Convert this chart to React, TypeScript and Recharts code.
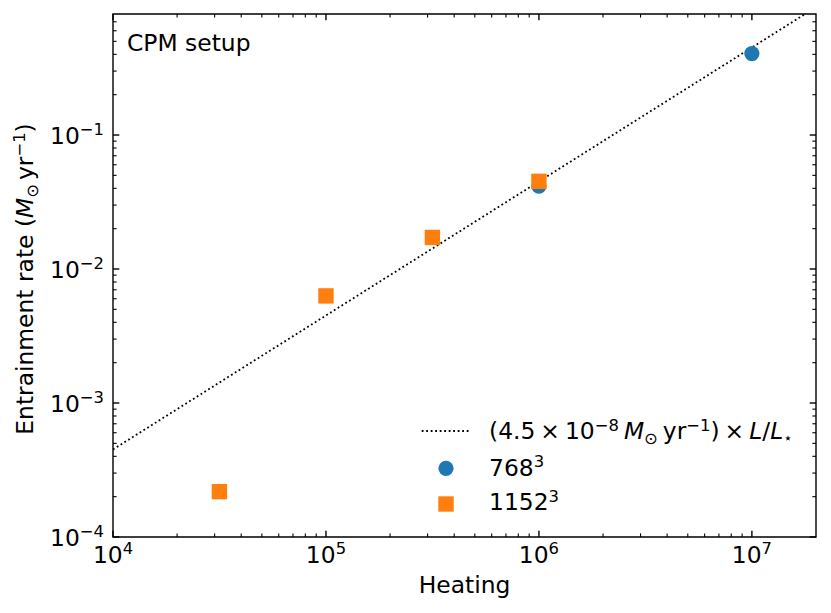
// Entrainment rate vs heating — log-log scatter with a linear scaling line.
import React from 'react';
import {
  ComposedChart,
  Line,
  Scatter,
  XAxis,
  YAxis,
  ReferenceArea,
  Legend,
} from 'recharts';

const FONT = '"DejaVu Sans", sans-serif';
const BLUE = '#1f77b4';
const ORANGE = '#ff7f0e';

// plot box (px) — matches margins + axis sizes below
const W = 831;
const H = 613;
const PLOT_L = 113;
const PLOT_R = 816;
const PLOT_T = 14;
const PLOT_B = 537;

const X_DOMAIN = [1e4, 2e7];
const Y_DOMAIN = [1e-4, 0.8];

// decades + minor steps for the log axes
const X_MAJOR = [1e4, 1e5, 1e6, 1e7];
const Y_MAJOR = [1e-4, 1e-3, 1e-2, 1e-1];
const MINOR_STEPS = [2, 3, 4, 5, 6, 7, 8, 9];

// dotted scaling line: (4.5e-8 Msun/yr) x L/L*
const FIT_X = [1e4, 2e7];
const FIT_Y = [4.5e-4, 0.9];

// 768^3 runs
const LOW_X = [1e6, 1e7];
const LOW_Y = [0.0415, 0.405];

// 1152^3 runs
const HIGH_X = [3.16e4, 1e5, 3.16e5, 1e6];
const HIGH_Y = [2.18e-4, 6.3e-3, 0.0172, 0.0451];

const zip = (xs: number[], ys: number[]) => xs.map((x, i) => ({ x, y: ys[i] }));
const fitData = zip(FIT_X, FIT_Y);
const lowData = zip(LOW_X, LOW_Y);
const highData = zip(HIGH_X, HIGH_Y);

const withMinor = (majors: number[], max: number) =>
  majors
    .flatMap((d) => [d, ...MINOR_STEPS.map((s) => s * d)])
    .filter((v) => v < max * 0.99);

const xTicks = withMinor(X_MAJOR, X_DOMAIN[1]);
const yTicks = withMinor(Y_MAJOR, Y_DOMAIN[1]);

const isMajor = (v: number) => {
  const e = Math.log10(v);
  return Math.abs(e - Math.round(e)) < 1e-6;
};
const expLabel = (v: number) => {
  const e = Math.round(Math.log10(v));
  return e < 0 ? `\u2212${-e}` : `${e}`;
};

const FS = 23.4;
const SUP = 16.4;

function XTick(props: any) {
  const { x, payload } = props;
  const v = payload.value;
  const major = isMajor(v);
  const len = major ? 6.3 : 3.6;
  const sw = major ? 1.4 : 1.1;
  return (
    <g>
      <line x1={x} x2={x} y1={PLOT_B} y2={PLOT_B - len} stroke="#000" strokeWidth={sw} />
      <line x1={x} x2={x} y1={PLOT_T} y2={PLOT_T + len} stroke="#000" strokeWidth={sw} />
      {major && (
        <text x={x} y={562.5} textAnchor="middle" fontFamily={FONT} fontSize={FS} fill="#000">
          <tspan>10</tspan>
          <tspan dy={-8.5} fontSize={SUP}>{expLabel(v)}</tspan>
        </text>
      )}
    </g>
  );
}

function YTick(props: any) {
  const { y, payload } = props;
  const v = payload.value;
  const major = isMajor(v);
  const len = major ? 6.3 : 3.6;
  const sw = major ? 1.4 : 1.1;
  return (
    <g>
      <line x1={PLOT_L} x2={PLOT_L + len} y1={y} y2={y} stroke="#000" strokeWidth={sw} />
      <line x1={PLOT_R} x2={PLOT_R - len} y1={y} y2={y} stroke="#000" strokeWidth={sw} />
      {major && (
        <text x={104} y={y + 8.5} textAnchor="end" fontFamily={FONT} fontSize={FS} fill="#000">
          <tspan>10</tspan>
          <tspan dy={-8.5} fontSize={SUP}>{expLabel(v)}</tspan>
        </text>
      )}
    </g>
  );
}

const circleShape = (p: any) => <circle cx={p.cx} cy={p.cy} r={7.6} fill={BLUE} />;
const squareShape = (p: any) => (
  <rect x={p.cx - 7.7} y={p.cy - 7.7} width={15.4} height={15.4} fill={ORANGE} />
);

function XLabel() {
  return (
    <text x={(PLOT_L + PLOT_R) / 2} y={593} textAnchor="middle" fontFamily={FONT} fontSize={FS} fill="#000">
      Heating
    </text>
  );
}

function YLabel() {
  return (
    <text
      x={33}
      y={279}
      transform="rotate(-90 33 279)"
      textAnchor="middle"
      fontFamily={FONT}
      fontSize={FS}
      fill="#000"
    >
      <tspan>Entrainment rate (</tspan>
      <tspan fontStyle="italic">M</tspan>
      <tspan dy={4.5} fontSize={SUP}>{'\u2299'}</tspan>
      <tspan dx={4} dy={-4.5}>yr</tspan>
      <tspan dy={-8.5} fontSize={SUP}>{'\u22121'}</tspan>
      <tspan dy={8.5}>)</tspan>
    </text>
  );
}

function CpmLabel() {
  return (
    <text x={127} y={51} fontFamily={FONT} fontSize={FS} fill="#000">
      CPM setup
    </text>
  );
}

function LegendBox() {
  return (
    <svg width={420} height={120} style={{ display: 'block', overflow: 'visible' }}>
      <line x1={11.7} x2={59.3} y1={26} y2={26} stroke="#000" strokeWidth={1.8} strokeDasharray="1.8 2.7" />
      <text x={79} y={34} fontFamily={FONT} fontSize={FS} fill="#000">
        <tspan>(4.5</tspan>
        <tspan dx={5}>×</tspan>
        <tspan dx={5}>10</tspan>
        <tspan dy={-8.5} fontSize={SUP}>{'\u22128'}</tspan>
        <tspan dx={5} dy={8.5} fontStyle="italic">M</tspan>
        <tspan dy={4.5} fontSize={SUP}>{'\u2299'}</tspan>
        <tspan dx={5} dy={-4.5}>yr</tspan>
        <tspan dy={-8.5} fontSize={SUP}>{'\u22121'}</tspan>
        <tspan dy={8.5}>)</tspan>
        <tspan dx={5}>×</tspan>
        <tspan dx={5} fontStyle="italic">L</tspan>
        <tspan>/</tspan>
        <tspan fontStyle="italic">L</tspan>
        <tspan dy={4} fontSize={15}>{'\u22c6'}</tspan>
      </text>
      <circle cx={36} cy={63.3} r={7.6} fill={BLUE} />
      <text x={79} y={70.7} fontFamily={FONT} fontSize={FS} fill="#000">
        <tspan>768</tspan>
        <tspan dy={-8.5} fontSize={SUP}>3</tspan>
      </text>
      <rect x={36 - 7.7} y={99 - 7.7} width={15.4} height={15.4} fill={ORANGE} />
      <text x={79} y={105} fontFamily={FONT} fontSize={FS} fill="#000">
        <tspan>1152</tspan>
        <tspan dy={-8.5} fontSize={SUP}>3</tspan>
      </text>
    </svg>
  );
}

export default function App() {
  return (
    <div style={{ position: 'relative', width: W, height: H, background: '#fff' }}>
      <style>{'body{margin:0;background:#fff}'}</style>
      <ComposedChart
        width={W}
        height={H}
        margin={{ top: PLOT_T, right: W - PLOT_R, bottom: 0, left: 0 }}
      >
        <XAxis
          dataKey="x"
          type="number"
          scale="log"
          domain={X_DOMAIN}
          allowDataOverflow
          ticks={xTicks}
          interval={0}
          tick={XTick}
          tickLine={false}
          axisLine={false}
          height={H - PLOT_B}
          label={<XLabel />}
        />
        <YAxis
          dataKey="y"
          type="number"
          scale="log"
          domain={Y_DOMAIN}
          allowDataOverflow
          ticks={yTicks}
          interval={0}
          tick={YTick}
          tickLine={false}
          axisLine={false}
          width={PLOT_L}
          label={<YLabel />}
        />
        <ReferenceArea
          x1={X_DOMAIN[0]}
          x2={X_DOMAIN[1]}
          y1={Y_DOMAIN[0]}
          y2={Y_DOMAIN[1]}
          fill="none"
          fillOpacity={0}
          stroke="#000"
          strokeWidth={1.4}
          label={<CpmLabel />}
        />
        <Line
          data={fitData}
          dataKey="y"
          stroke="#000"
          strokeWidth={1.8}
          strokeDasharray="1.8 2.7"
          dot={false}
          activeDot={false}
          isAnimationActive={false}
        />
        <Scatter data={lowData} dataKey="y" shape={circleShape} isAnimationActive={false} />
        <Scatter data={highData} dataKey="y" shape={squareShape} isAnimationActive={false} />
        <Legend
          layout="vertical"
          align="center"
          verticalAlign="middle"
          content={() => <LegendBox />}
          wrapperStyle={{ left: 410, top: 405, width: 420, height: 120 }}
        />
      </ComposedChart>
    </div>
  );
}
